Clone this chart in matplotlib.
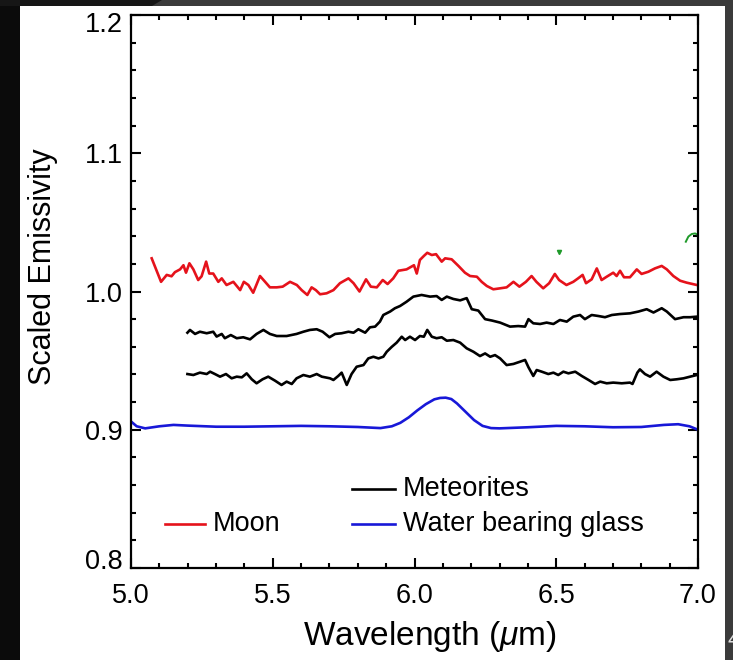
import matplotlib
matplotlib.use("Agg")
import matplotlib.pyplot as plt
import matplotlib.transforms as mtransforms
from matplotlib.ticker import MultipleLocator, FuncFormatter, FormatStrFormatter
from matplotlib.patches import Rectangle, Polygon

plt.rcParams["font.family"] = ["Liberation Sans", "DejaVu Sans"]
plt.rcParams["mathtext.fontset"] = "custom"
plt.rcParams["mathtext.rm"] = "Liberation Sans"
plt.rcParams["mathtext.it"] = "Liberation Sans:italic"

# ---- spectra -------------------------------------------------------------
moon_wl = [5.073, 5.106, 5.126, 5.143, 5.155, 5.173, 5.185, 5.194, 5.206, 5.22,
           5.237, 5.249, 5.265, 5.276, 5.29, 5.308, 5.32, 5.337, 5.361, 5.385,
           5.398, 5.414, 5.431, 5.455, 5.473, 5.49, 5.514, 5.535, 5.561, 5.585,
           5.602, 5.622, 5.637, 5.652, 5.667, 5.69, 5.714, 5.737, 5.767, 5.785,
           5.806, 5.829, 5.846, 5.867, 5.888, 5.905, 5.925, 5.943, 5.972, 5.998,
           6.008, 6.019, 6.033, 6.045, 6.061, 6.076, 6.096, 6.108, 6.131, 6.155,
           6.178, 6.196, 6.22, 6.237, 6.255, 6.278, 6.302, 6.325, 6.349, 6.37,
           6.393, 6.413, 6.43, 6.454, 6.475, 6.495, 6.51, 6.536, 6.56, 6.577,
           6.593, 6.605, 6.625, 6.643, 6.66, 6.678, 6.701, 6.713, 6.725, 6.739,
           6.76, 6.784, 6.801, 6.825, 6.848, 6.872, 6.89, 6.913, 6.937, 6.96,
           6.996]
moon_em = [1.024, 1.007, 1.012, 1.011, 1.014, 1.016, 1.019, 1.0136, 1.0204, 1.016,
           1.0083, 1.011, 1.0216, 1.013, 1.013, 1.007, 1.0095, 1.0047, 1.007, 1.001,
           1.007, 1.0047, 0.9991, 1.0112, 1.007, 1.003, 1.003, 1.0035, 1.007, 1.0047,
           1.001, 0.9975, 1.003, 1.001, 0.998, 0.9987, 1.001, 1.006, 1.0095, 1.006,
           1.0, 1.0088, 1.0035, 1.003, 1.0083, 1.0054, 1.0095, 1.015, 1.016, 1.019,
           1.013, 1.0228, 1.0257, 1.028, 1.0264, 1.027, 1.0216, 1.024, 1.0233, 1.0185,
           1.0136, 1.0112, 1.0107, 1.007, 1.004, 1.0016, 1.0023, 1.003, 1.007, 1.0035,
           1.007, 1.0112, 1.007, 1.0023, 1.006, 1.0127, 1.0083, 1.0047, 1.007, 1.0095,
           1.012, 1.006, 1.0088, 1.0167, 1.0083, 1.0107, 1.0136, 1.0112, 1.015, 1.0103,
           1.0103, 1.016, 1.0127, 1.0143, 1.0167, 1.0185, 1.016, 1.0112, 1.0078, 1.0064,
           1.0047]

met1_wl = [5.199, 5.208, 5.226, 5.243, 5.267, 5.29, 5.302, 5.32, 5.331, 5.352,
           5.373, 5.396, 5.42, 5.443, 5.467, 5.49, 5.514, 5.549, 5.584, 5.608,
           5.631, 5.655, 5.676, 5.7, 5.72, 5.743, 5.767, 5.785, 5.802, 5.826,
           5.843, 5.861, 5.878, 5.89, 5.914, 5.931, 5.949, 5.972, 5.996, 6.025,
           6.055, 6.078, 6.096, 6.114, 6.137, 6.161, 6.184, 6.202, 6.225, 6.249,
           6.273, 6.302, 6.337, 6.366, 6.39, 6.402, 6.419, 6.443, 6.466, 6.49,
           6.513, 6.537, 6.56, 6.584, 6.601, 6.625, 6.648, 6.672, 6.696, 6.725,
           6.76, 6.79, 6.819, 6.843, 6.872, 6.89, 6.919, 6.949, 6.972, 6.996]
met1_em = [0.9702, 0.9722, 0.9693, 0.9709, 0.9698, 0.9709, 0.9674, 0.9693, 0.9662, 0.9685,
           0.9662, 0.9669, 0.9654, 0.9693, 0.9722, 0.9693, 0.9678, 0.9678, 0.9693, 0.9709,
           0.9722, 0.9727, 0.9709, 0.9669, 0.9693, 0.9698, 0.9709, 0.9702, 0.9727, 0.9702,
           0.9741, 0.9746, 0.9782, 0.983, 0.9855, 0.9879, 0.9895, 0.9926, 0.9963, 0.9975,
           0.9963, 0.9967, 0.9939, 0.9963, 0.9946, 0.9936, 0.9952, 0.9872, 0.9862, 0.98,
           0.979, 0.9775, 0.9746, 0.975, 0.9746, 0.98, 0.977, 0.9765, 0.9775, 0.9765,
           0.9794, 0.9782, 0.9818, 0.983, 0.98, 0.983, 0.9823, 0.9814, 0.983, 0.9837,
           0.9842, 0.9855, 0.9872, 0.9848, 0.9879, 0.9855, 0.98, 0.9814, 0.9814, 0.9818]

met2_wl = [5.199, 5.22, 5.243, 5.267, 5.279, 5.296, 5.314, 5.335, 5.355, 5.373,
           5.391, 5.408, 5.426, 5.443, 5.464, 5.484, 5.508, 5.531, 5.549, 5.567,
           5.584, 5.608, 5.631, 5.655, 5.673, 5.702, 5.714, 5.731, 5.743, 5.761,
           5.778, 5.796, 5.82, 5.837, 5.855, 5.873, 5.89, 5.902, 5.92, 5.937,
           5.955, 5.967, 5.984, 6.002, 6.019, 6.033, 6.045, 6.061, 6.078, 6.096,
           6.114, 6.137, 6.161, 6.184, 6.208, 6.231, 6.249, 6.267, 6.284, 6.302,
           6.325, 6.349, 6.372, 6.39, 6.402, 6.419, 6.431, 6.449, 6.472, 6.49,
           6.507, 6.525, 6.543, 6.567, 6.59, 6.614, 6.637, 6.655, 6.678, 6.701,
           6.731, 6.76, 6.769, 6.786, 6.795, 6.813, 6.831, 6.854, 6.878, 6.902,
           6.925, 6.949, 6.972, 6.996]
met2_em = [0.9403, 0.9396, 0.9413, 0.9403, 0.942, 0.9403, 0.9384, 0.9403, 0.9372, 0.9384,
           0.9379, 0.9408, 0.9365, 0.9336, 0.9365, 0.9384, 0.9355, 0.9324, 0.9348, 0.9331,
           0.9372, 0.9396, 0.9384, 0.9403, 0.9384, 0.9372, 0.936, 0.9389, 0.9413, 0.9324,
           0.9403, 0.9456, 0.9468, 0.9516, 0.9528, 0.9516, 0.9528, 0.9564, 0.96, 0.963,
           0.9673, 0.9649, 0.9673, 0.9649, 0.9678, 0.9673, 0.9722, 0.9673, 0.9662, 0.9669,
           0.9644, 0.9649, 0.963, 0.9589, 0.9564, 0.9533, 0.9552, 0.9528, 0.954, 0.9516,
           0.9468, 0.9476, 0.9492, 0.9505, 0.9452, 0.9389, 0.9432, 0.942, 0.9403, 0.9413,
           0.9396, 0.942, 0.9408, 0.942, 0.9389, 0.936, 0.9331, 0.9348, 0.9336, 0.9341,
           0.9336, 0.9341, 0.9331, 0.9413, 0.9437, 0.9403, 0.9384, 0.942, 0.9384, 0.936,
           0.9365, 0.9372, 0.9384, 0.9396]

glass_wl = [5.00, 5.02, 5.05, 5.10, 5.15, 5.20, 5.30, 5.40, 5.50, 5.60,
            5.70, 5.80, 5.88, 5.92, 5.95, 5.98, 6.01, 6.04, 6.07, 6.09,
            6.11, 6.13, 6.15, 6.18, 6.21, 6.24, 6.27, 6.30, 6.40, 6.50,
            6.60, 6.70, 6.80, 6.88, 6.93, 6.97, 7.00]
glass_em = [0.906, 0.9025, 0.901, 0.9025, 0.9035, 0.903, 0.9022, 0.9022, 0.9025, 0.9028,
            0.9025, 0.902, 0.9012, 0.9025, 0.905, 0.909, 0.914, 0.9185, 0.922, 0.923,
            0.9232, 0.9222, 0.919, 0.913, 0.907, 0.9028, 0.9012, 0.901, 0.9018, 0.9028,
            0.9025, 0.9018, 0.902, 0.9035, 0.904, 0.9025, 0.900]

# stray green fragments
green_wl = [6.957, 6.966, 6.978, 6.99, 6.999]
green_em = [1.036, 1.0397, 1.0416, 1.042, 1.041]
green_pt_wl = [6.511]
green_pt_em = [1.0288]

legend_labels = ["Meteorites", "Moon", "Water bearing glass"]
y_end_ticks = [0.8, 1.2]

RED = "#e5121b"
BLUE = "#1818d8"
GREEN = "#1f9a2a"

W, H = 733, 660
fig = plt.figure(figsize=(W / 100, H / 100), dpi=100)
fig.patch.set_facecolor("white")


def fx(px):
    return px / W


def fy(py):
    return 1 - py / H


# frame of the slide around the plot
fig.patches.append(Rectangle((0, 0), fx(20), 1, transform=fig.transFigure,
                             facecolor="#0b0b0b", edgecolor="none", zorder=0))
fig.patches.append(Rectangle((fx(725), 0), 1 - fx(725), 1, transform=fig.transFigure,
                             facecolor="#3b3b3b", edgecolor="none", zorder=0))
fig.patches.append(Rectangle((0, fy(6)), 1, 1 - fy(6), transform=fig.transFigure,
                             facecolor="#3b3b3b", edgecolor="none", zorder=0))
fig.patches.append(Polygon([(0, fy(6)), (fx(152), fy(6)), (fx(162), 1), (0, 1)],
                           closed=True, transform=fig.transFigure,
                           facecolor="#161616", edgecolor="none", zorder=0))
fig.text(fx(727), fy(641), "4", color="#dddddd", fontsize=16,
         ha="left", va="center")

ax = fig.add_axes([fx(131), fy(568), fx(698) - fx(131), fy(15) - fy(568)])
ax.set_facecolor("white")

lw = 1.9
ax.plot(moon_wl, moon_em, color=RED, lw=lw)
ax.plot(met1_wl, met1_em, color="black", lw=lw)
ax.plot(met2_wl, met2_em, color="black", lw=lw)
ax.plot(glass_wl, glass_em, color=BLUE, lw=lw, solid_joinstyle="round")
ax.plot(green_wl, green_em, color=GREEN, lw=1.4)
ax.plot(green_pt_wl, green_pt_em, color=GREEN, marker="v", ms=3, ls="none")

ax.set_xlim(5.0, 7.0)
ax.set_ylim(0.8, 1.2)
ax.xaxis.set_major_locator(MultipleLocator(0.5))
ax.xaxis.set_minor_locator(MultipleLocator(0.1))
ax.yaxis.set_major_locator(MultipleLocator(0.1))
ax.yaxis.set_minor_locator(MultipleLocator(0.02))
ax.xaxis.set_major_formatter(FormatStrFormatter("%.1f"))


def inner_y_label(v, pos):
    # the two end labels are drawn separately, nudged inside the frame
    if any(abs(v - e) < 1e-9 for e in y_end_ticks):
        return ""
    return "%.1f" % v


ax.yaxis.set_major_formatter(FuncFormatter(inner_y_label))

TICK_FS = 19.5
ax.tick_params(which="both", direction="in", top=True, right=True,
               width=1.5, labelsize=TICK_FS, colors="black")
ax.tick_params(which="major", length=7.5)
ax.tick_params(which="minor", length=3.8)
ax.tick_params(axis="y", pad=6)
ax.tick_params(axis="x", pad=11)
for s in ax.spines.values():
    s.set_linewidth(1.6)

ylab_tr = mtransforms.blended_transform_factory(ax.transAxes, ax.transData)
for v, dy in zip(y_end_ticks, [6.5, -5.0]):
    off = mtransforms.ScaledTranslation(-6 / 72, dy / 72, fig.dpi_scale_trans)
    ax.text(0, v, "%.1f" % v, transform=ylab_tr + off, fontsize=TICK_FS,
            ha="right", va="center_baseline", clip_on=False)

ax.set_xlabel(r"Wavelength ($\mu$m)", fontsize=24)
ax.xaxis.label.set_va("center")
ax.xaxis.set_label_coords(0.528, -0.123)
ax.set_ylabel("Scaled Emissivity", fontsize=22)
ax.yaxis.label.set_va("center")
ax.yaxis.set_label_coords(-0.155, 0.544)

# hand-placed legend entries
entries = [
    (legend_labels[0], "black", 0.390, 0.466, 0.143),
    (legend_labels[1], RED, 0.060, 0.131, 0.080),
    (legend_labels[2], BLUE, 0.390, 0.466, 0.080),
]
for label, col, x0, x1, yy in entries:
    ax.plot([x0, x1], [yy, yy], color=col, lw=lw, transform=ax.transAxes)
    ax.text(x1 + 0.014, yy, label, transform=ax.transAxes, fontsize=TICK_FS,
            ha="left", va="center")

fig.savefig("out.png", dpi=100)
